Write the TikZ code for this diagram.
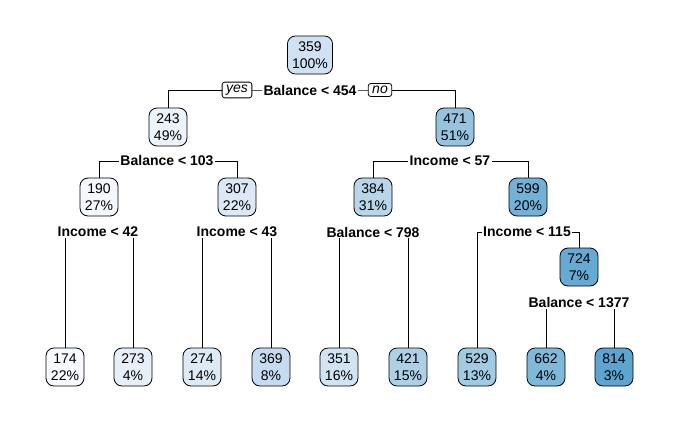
\documentclass[tikz,border=0pt]{standalone}
\usepackage{fontspec}
\setmainfont{Liberation Sans}
\usetikzlibrary{backgrounds}

\definecolor{c174}{HTML}{F7FBFF}
\definecolor{c190}{HTML}{F4F8FD}
\definecolor{c243}{HTML}{ECF3FB}
\definecolor{c273}{HTML}{E7F0FA}
\definecolor{c274}{HTML}{DEEAF6}
\definecolor{c307}{HTML}{DBE8F5}
\definecolor{c351}{HTML}{D2E3F3}
\definecolor{c359}{HTML}{CFE1F2}
\definecolor{c369}{HTML}{C6DBEF}
\definecolor{c384}{HTML}{B8D5EA}
\definecolor{c421}{HTML}{AED0E6}
\definecolor{c471}{HTML}{96C4DF}
\definecolor{c529}{HTML}{A1CBE3}
\definecolor{c599}{HTML}{74B1D7}
\definecolor{c662}{HTML}{7FB9DA}
\definecolor{c724}{HTML}{66AAD4}
\definecolor{c814}{HTML}{5DA4D0}

\begin{document}
\begin{tikzpicture}
  [x=0.75pt, y=-0.75pt,
   every node/.style = {font=\fontsize{10.5}{12.5}\selectfont},
   rbox/.style = {draw, line width=0.6pt, rounded corners=6pt, align=center,
                  minimum width=28.5pt, minimum height=28.5pt, inner xsep=3.5pt},
   split/.style = {fill=white, inner sep=1pt,
                   font=\bfseries\fontsize{10.5}{12.5}\selectfont},
   tag/.style = {draw, line width=0.6pt, rounded corners=2pt, fill=white,
                 inner xsep=3pt, inner ysep=2pt,
                 font=\itshape\fontsize{10.5}{12.5}\selectfont}]
  \useasboundingbox (0, 0) rectangle (681, 421);

  % inner nodes
  \node [rbox, fill=c359] (n359) at (310, 55) {359\\100\%};
  \node [rbox, fill=c243] (n243) at (168, 127) {243\\49\%};
  \node [rbox, fill=c471] (n471) at (455, 127) {471\\51\%};
  \node [rbox, fill=c190] (n190) at (99, 197) {190\\27\%};
  \node [rbox, fill=c307] (n307) at (237, 197) {307\\22\%};
  \node [rbox, fill=c384] (n384) at (373, 197) {384\\31\%};
  \node [rbox, fill=c599] (n599) at (528, 197) {599\\20\%};
  \node [rbox, fill=c724] (n724) at (579, 267) {724\\7\%};

  % leaves
  \node [rbox, fill=c174] (l174) at (65, 367) {174\\22\%};
  \node [rbox, fill=c273] (l273) at (133, 367) {273\\4\%};
  \node [rbox, fill=c274] (l274) at (202, 367) {274\\14\%};
  \node [rbox, fill=c369] (l369) at (271, 367) {369\\8\%};
  \node [rbox, fill=c351] (l351) at (339, 367) {351\\16\%};
  \node [rbox, fill=c421] (l421) at (408, 367) {421\\15\%};
  \node [rbox, fill=c529] (l529) at (477, 367) {529\\13\%};
  \node [rbox, fill=c662] (l662) at (546, 367) {662\\4\%};
  \node [rbox, fill=c814] (l814) at (614, 367) {814\\3\%};

  % split labels
  \node [split] (s454) at (310, 90) {Balance < 454};
  \node [tag] (yes) at (237, 90) {yes};
  \node [tag] (no) at (380, 90) {no};
  \node [split] (s103) at (167, 161) {Balance < 103};
  \node [split] (s57) at (450, 161) {Income < 57};
  \node [split] (s42) at (98, 232) {Income < 42};
  \node [split] (s43) at (237, 232) {Income < 43};
  \node [split] (s798) at (373, 232) {Balance < 798};
  \node [split] (s115) at (527, 232) {Income < 115};
  \node [split] (s1377) at (579, 303) {Balance < 1377};

  \begin{pgfonlayer}{background}
    \draw [line width=0.7pt] (n243.north) |- (s454.center) -| (n471.north);
    \draw [line width=0.7pt] (n190.north) |- (s103.center) -| (n307.north);
    \draw [line width=0.7pt] (n384.north) |- (s57.center) -| (n599.north);
    \draw [line width=0.7pt] (l174.north) |- (s42.center) -| (l273.north);
    \draw [line width=0.7pt] (l274.north) |- (s43.center) -| (l369.north);
    \draw [line width=0.7pt] (l351.north) |- (s798.center) -| (l421.north);
    \draw [line width=0.7pt] (l529.north) |- (s115.center) -| (n724.north);
    \draw [line width=0.7pt] (l662.north) |- (s1377.center) -| (l814.north);
  \end{pgfonlayer}
\end{tikzpicture}
\end{document}
